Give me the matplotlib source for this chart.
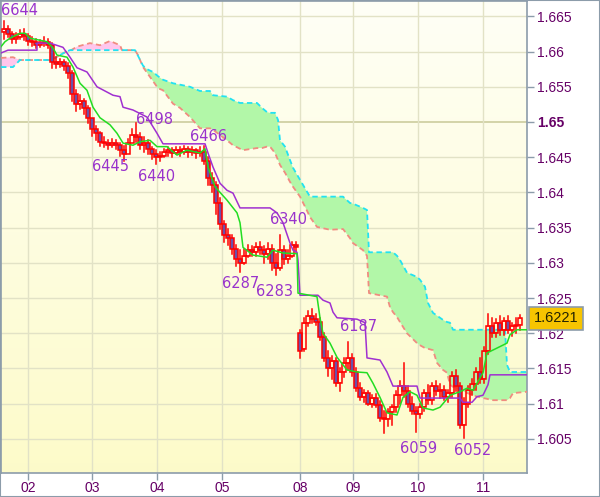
import numpy as np
import matplotlib
matplotlib.use("Agg")
import matplotlib.pyplot as plt
from matplotlib.patches import Rectangle
from matplotlib.transforms import blended_transform_factory

# ---- data (prices as last four digits, e.g. 6644 -> 1.6644) ----
opens = [6628, 6632, 6625, 6618, 6620, 6625, 6622, 6615, 6613, 6610,
         6612, 6614, 6610, 6585, 6583, 6585, 6580, 6570, 6540, 6525,
         6530, 6520, 6505, 6490, 6485, 6472, 6470, 6468, 6470, 6467,
         6460, 6455, 6470, 6482, 6478, 6468, 6470, 6462, 6455, 6450,
         6452, 6458, 6460, 6456, 6460, 6458, 6461, 6457, 6460, 6456,
         6458, 6445, 6420, 6410, 6385, 6355, 6340, 6335, 6320, 6305,
         6300, 6310, 6318, 6315, 6322, 6318, 6312, 6320, 6300, 6292,
         6318, 6305, 6310, 6325, 6200, 6178, 6215, 6225, 6220, 6216,
         6195, 6165, 6150, 6160, 6130, 6145, 6158, 6165, 6145, 6122,
         6110, 6115, 6100, 6108, 6098, 6080, 6078, 6088, 6095, 6112,
         6125, 6118, 6100, 6090, 6085, 6095, 6115, 6105, 6125, 6118,
         6120, 6110, 6115, 6140, 6125, 6070, 6100, 6120, 6128, 6145,
         6135, 6175, 6210, 6200, 6215, 6205, 6218, 6205, 6210, 6212]
highs = [6644, 6636, 6628, 6626, 6630, 6632, 6625, 6620, 6618, 6616,
         6620, 6618, 6612, 6592, 6590, 6588, 6584, 6572, 6545, 6538,
         6532, 6522, 6505, 6495, 6486, 6478, 6474, 6476, 6474, 6470,
         6466, 6476, 6490, 6498, 6484, 6478, 6474, 6465, 6460, 6458,
         6462, 6464, 6463, 6465, 6464, 6466, 6464, 6465, 6462, 6464,
         6466, 6450, 6428, 6415, 6392, 6360, 6348, 6340, 6325, 6318,
         6320, 6326, 6324, 6328, 6330, 6324, 6328, 6325, 6312, 6340,
         6324, 6318, 6330, 6330, 6205, 6222, 6232, 6235, 6228, 6222,
         6200, 6175, 6168, 6165, 6150, 6165, 6187, 6170, 6150, 6130,
         6120, 6118, 6112, 6114, 6104, 6090, 6092, 6098, 6118, 6132,
         6158, 6125, 6110, 6095, 6100, 6120, 6126, 6130, 6132, 6128,
         6125, 6120, 6145, 6148, 6130, 6108, 6125, 6135, 6150, 6165,
         6180, 6228, 6222, 6220, 6225, 6222, 6224, 6215, 6222, 6226]
lows = [6618, 6620, 6612, 6612, 6618, 6616, 6610, 6608, 6605, 6606,
        6608, 6605, 6577, 6576, 6578, 6574, 6562, 6530, 6515, 6518,
        6512, 6498, 6480, 6475, 6466, 6465, 6462, 6464, 6462, 6452,
        6445, 6455, 6470, 6472, 6462, 6458, 6455, 6448, 6440, 6444,
        6450, 6452, 6451, 6454, 6452, 6455, 6450, 6453, 6449, 6452,
        6440, 6410, 6400, 6370, 6348, 6330, 6325, 6312, 6295, 6287,
        6298, 6308, 6310, 6310, 6312, 6300, 6305, 6290, 6283, 6290,
        6298, 6300, 6308, 6316, 6165, 6175, 6210, 6215, 6212, 6190,
        6160, 6140, 6135, 6125, 6118, 6138, 6148, 6140, 6118, 6105,
        6102, 6098, 6095, 6096, 6075, 6059, 6068, 6070, 6088, 6100,
        6110, 6095, 6085, 6060, 6080, 6090, 6100, 6100, 6112, 6108,
        6105, 6102, 6110, 6118, 6065, 6052, 6095, 6112, 6120, 6130,
        6130, 6170, 6195, 6194, 6198, 6198, 6200, 6196, 6200, 6205]
closes = [6632, 6625, 6618, 6620, 6625, 6622, 6615, 6613, 6610, 6612,
          6614, 6610, 6585, 6583, 6585, 6580, 6570, 6540, 6525, 6530,
          6520, 6505, 6490, 6485, 6472, 6470, 6468, 6470, 6467, 6460,
          6455, 6470, 6482, 6478, 6468, 6470, 6462, 6455, 6450, 6452,
          6458, 6460, 6456, 6460, 6458, 6461, 6457, 6460, 6456, 6458,
          6445, 6420, 6410, 6385, 6355, 6340, 6335, 6320, 6305, 6300,
          6310, 6318, 6315, 6322, 6318, 6312, 6320, 6300, 6292, 6318,
          6305, 6310, 6325, 6322, 6175, 6215, 6225, 6220, 6216, 6195,
          6165, 6150, 6160, 6130, 6145, 6158, 6165, 6145, 6122, 6110,
          6115, 6100, 6108, 6098, 6080, 6078, 6088, 6095, 6112, 6125,
          6118, 6100, 6090, 6085, 6095, 6115, 6105, 6125, 6118, 6120,
          6110, 6115, 6140, 6125, 6070, 6100, 6120, 6128, 6145, 6135,
          6175, 6210, 6200, 6215, 6205, 6218, 6205, 6210, 6212, 6221]

# kijun-sen (purple)
kijun_x = [-0.75, 1, 8.25, 8.25, 11.5, 14.75, 16.5, 18.25, 20.75, 23.25, 27.25, 29,
           29.75, 32.25, 35.75, 38.25, 39.75, 50.25, 51, 52.25, 54, 55.75, 57.25, 59,
           66.5, 68.25, 69.75, 71.5, 72.25, 73.25, 73.5, 74, 78.5, 79.75, 81.5, 82.25,
           83.25, 88.25, 90.25, 90.75, 94, 95.75, 97.25, 103.25, 104, 114, 114.75, 117,
           118.25, 119.75, 121, 121.5, 130.75]
kijun_y = [6598, 6602, 6602, 6612, 6612, 6606, 6592, 6577, 6571, 6550, 6538, 6536,
           6521, 6517, 6507, 6484, 6469, 6469, 6456, 6436, 6413, 6403, 6399, 6378,
           6378, 6371, 6357, 6328, 6318, 6315, 6304, 6254, 6254, 6247, 6243, 6230,
           6222, 6220, 6215, 6165, 6162, 6145, 6125, 6125, 6108, 6108, 6102, 6102,
           6110, 6112, 6127, 6141, 6141]

# tenkan-sen (green)
tenkan_x = [-0.75, 0.25, 1.5, 4, 5.25, 6.5, 10.75, 12.25, 13.25, 15.75, 17.25, 19,
            20.75, 22.25, 24, 26.5, 28.25, 29.75, 32.25, 34, 36.5, 38.25, 40.75, 43.25,
            45.75, 49, 50.25, 51, 52.75, 55.75, 58.25, 59, 59.75, 62.25, 65.75, 67.25,
            69.75, 73.25, 73.5, 78.25, 79, 79.75, 81.5, 83.25, 85.75, 88.25, 90.75, 92.25,
            94, 95.75, 98.25, 99.75, 101.5, 103.25, 104.75, 107.25, 109, 111.5, 114,
            115.75, 117.25, 119.75, 120.75, 123.25, 125.75, 126.5, 128.25, 130.75]
tenkan_y = [6607, 6614, 6619, 6626, 6626, 6619, 6614, 6605, 6595, 6592, 6578, 6555,
            6545, 6521, 6506, 6496, 6484, 6470, 6467, 6472, 6474, 6465, 6465, 6453,
            6460, 6456, 6462, 6436, 6408, 6389, 6371, 6357, 6322, 6311, 6308, 6318,
            6314, 6313, 6257, 6252, 6222, 6200, 6186, 6166, 6148, 6145, 6144, 6129,
            6109, 6087, 6084, 6109, 6117, 6112, 6094, 6091, 6095, 6112, 6117, 6122,
            6119, 6144, 6172, 6179, 6186, 6198, 6205, 6205]

# kumo: senkou span A (cyan) and B (salmon)
cloud_x = [-0.75, 2.25, 4, 11.5, 12.75, 15.25, 16.5, 18.25, 21.5, 24, 26.5, 29, 29.5,
           32.75, 33.5, 34.75, 35.75, 37.25, 38.5, 39.75, 42.25, 44, 46.5, 49, 51.5,
           52.25, 55.75, 57.25, 59, 59.75, 63.25, 64.5, 65.75, 66.5, 67.75, 68.5, 69,
           70.25, 71.5, 72.25, 74, 75.75, 76.5, 78.25, 81.5, 84.75, 86.5, 87.25, 89.75,
           90.75, 91.25, 95.75, 96.5, 97.25, 98.25, 99, 100.75, 103.25, 104, 105.25,
           106, 107.25, 108.25, 109.75, 110.75, 111.5, 112.25, 114, 118.25, 122.25,
           125.25, 125.75, 126.5, 127.25, 130.75]
span_a = [6578, 6578, 6588, 6588, 6591, 6599, 6602, 6602, 6602, 6602, 6602, 6602, 6602,
          6602, 6594, 6580, 6575, 6571, 6565, 6560, 6555, 6553, 6550, 6544, 6544,
          6538, 6536, 6531, 6527, 6527, 6527, 6520, 6514, 6513, 6513, 6503, 6474,
          6465, 6446, 6435, 6418, 6401, 6394, 6394, 6394, 6394, 6385, 6384, 6378,
          6375, 6315, 6315, 6315, 6315, 6310, 6304, 6286, 6280, 6276, 6266,
          6243, 6229, 6225, 6219, 6216, 6215, 6205, 6205, 6205, 6205,
          6205, 6155, 6145, 6145, 6145]
span_b = [6591, 6592, 6588, 6588, 6591, 6599, 6601, 6607, 6612, 6609, 6615, 6609, 6602,
          6602, 6595, 6578, 6570, 6558, 6548, 6545, 6526, 6520, 6507, 6491, 6491,
          6489, 6474, 6467, 6462, 6460, 6463, 6463, 6465, 6465, 6456, 6446, 6439,
          6428, 6415, 6408, 6394, 6374, 6365, 6351, 6347, 6348, 6335, 6328, 6318,
          6310, 6257, 6252, 6237, 6230, 6223, 6216, 6200, 6186, 6183, 6179,
          6178, 6176, 6158, 6148, 6144, 6127, 6124, 6119, 6110, 6105,
          6105, 6105, 6108, 6115, 6117]

# high/low annotations: text, bar position, price position
note_text = ["6644", "6498", "6466", "6445", "6440", "6340", "6287", "6283", "6187", "6059", "6052"]
note_x = [-0.7, 32.9, 46.4, 22.1, 33.6, 66.6, 54.4, 63.1, 84.1, 98.9, 112.4]
note_y = [6658, 6504, 6479, 6437, 6422, 6361, 6270, 6260, 6209, 6037, 6033]

day_pos = [6, 22, 38.25, 54.5, 74, 87.25, 103.5, 119.75]
day_labels = ["02", "03", "04", "05", "08", "09", "10", "11"]
price_ticks = [1.605, 1.61, 1.615, 1.62, 1.625, 1.63, 1.635, 1.64, 1.645, 1.65, 1.655, 1.66, 1.665]
last_price = 1.6221

plt.rcParams['font.family'] = ['Liberation Sans', 'DejaVu Sans']


def px(v):
    return 1.0 + np.array(v) / 10000.0


o, h, l, c = px(opens), px(highs), px(lows), px(closes)
n = len(c)

W, H = 600, 497
fig = plt.figure(figsize=(6, 4.97), dpi=100)
ax = fig.add_axes([1 / W, 24 / H, 526 / W, 472 / H])
X0, X1, Y0, Y1 = -0.75, 130.75, 1.60016, 1.66718

# background gradient
grad = np.linspace(0, 1, 256).reshape(-1, 1, 1)
top = np.array([1.0, 1.0, 0.965])
bot = np.array([0.992, 0.984, 0.79])
img = top + (bot - top) * grad
ax.imshow(img, extent=[X0, X1, Y0, Y1], aspect='auto', origin='upper', zorder=0)
ax.set_xlim(X0, X1)
ax.set_ylim(Y0, Y1)

# grid
for yv in price_ticks:
    if yv == 1.65:
        ax.axhline(yv, color='#d0d0a4', lw=1.3, zorder=1)
    else:
        ax.axhline(yv, color='#e2e2c6', lw=1.0, zorder=1)
for xv in day_pos:
    ax.axvline(xv, color='#e2e2c6', lw=1.0, zorder=1)

# cloud
cx = np.array(cloud_x)
sa, sb = px(span_a), px(span_b)
ax.fill_between(cx, sa, sb, where=sa >= sb, interpolate=True, color='#b2f7a8', lw=0, zorder=2)
ax.fill_between(cx, sa, sb, where=sa < sb, interpolate=True, color='#ffc6ec', lw=0, zorder=2)
ax.plot(cx, sb, color='#f08c80', lw=1.3, ls=(0, (3, 2)), zorder=3)
ax.plot(cx, sa, color='#22e2f2', lw=1.3, ls=(0, (3, 2)), zorder=3)

# candles
for i in range(n):
    top_b, bot_b = max(o[i], c[i]), min(o[i], c[i])
    ax.plot([i, i], [top_b, h[i]], color='#ff0000', lw=1.1, zorder=4)
    ax.plot([i, i], [l[i], bot_b], color='#ff0000', lw=1.1, zorder=4)
    fc = '#6b51a8' if c[i] < o[i] else 'none'
    ax.add_patch(Rectangle((i - 0.4, bot_b), 0.8, max(top_b - bot_b, 0.00005),
                           facecolor=fc, edgecolor='#ff0000', lw=1.1, zorder=4))

# ichimoku lines
ax.plot(kijun_x, px(kijun_y), color='#a030d0', lw=1.1, zorder=5)
ax.plot(tenkan_x, px(tenkan_y), color='#22dd22', lw=1.1, zorder=5)

# annotations
for t, xv, yv in zip(note_text, note_x, note_y):
    ax.text(xv, 1.0 + yv / 10000.0, t, color='#9933cc', fontsize=10.5, family='DejaVu Sans',
            ha='left', va='center', zorder=6)

# axes styling
for s in ax.spines.values():
    s.set_color('#8c9caa')
    s.set_linewidth(1.2)
ax.yaxis.tick_right()
ax.set_yticks(price_ticks)
ax.set_yticklabels(['%g' % v for v in price_ticks])
for lab, v in zip(ax.get_yticklabels(), price_ticks):
    if v == 1.65:
        lab.set_fontweight('bold')
ax.set_xticks(day_pos)
ax.set_xticklabels(day_labels)
ax.tick_params(axis='both', colors='#8c9caa', labelcolor='#660066', labelsize=10, length=5, width=1)
ax.tick_params(axis='y', pad=2)
ax.tick_params(axis='x', pad=1)

# last price box
trans = blended_transform_factory(ax.transAxes, ax.transData)
ax.text(1.013, last_price, '%.4f' % last_price, transform=trans, fontsize=10.5,
        color='#222200', ha='left', va='center', zorder=7,
        bbox=dict(boxstyle='square,pad=0.3', fc='#f7c400', ec='#8c9caa', lw=1.2))

# outer frame
fig.patches.append(Rectangle((0, 0), 1, 1, transform=fig.transFigure, fill=False,
                             edgecolor='#8c9caa', lw=1.5))

fig.savefig('out.png', dpi=100, facecolor='white')
